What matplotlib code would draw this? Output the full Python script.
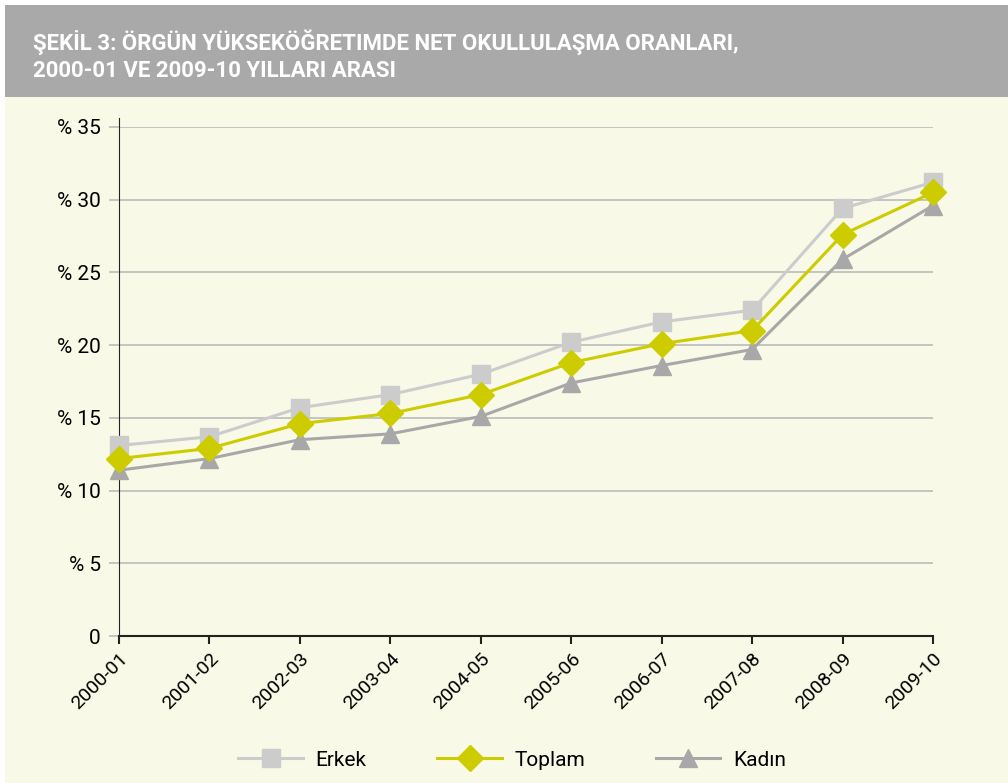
import numpy as np
import matplotlib
matplotlib.use("Agg")
import matplotlib.pyplot as plt
from matplotlib.patches import Rectangle

years = ["2000-01", "2001-02", "2002-03", "2003-04", "2004-05",
         "2005-06", "2006-07", "2007-08", "2008-09", "2009-10"]
erkek = [13.1, 13.7, 15.7, 16.6, 18.0, 20.2, 21.6, 22.4, 29.4, 31.2]
toplam = [12.2, 12.9, 14.6, 15.3, 16.6, 18.8, 20.1, 21.0, 27.6, 30.5]
kadin = [11.4, 12.2, 13.5, 13.9, 15.1, 17.4, 18.6, 19.7, 25.9, 29.6]
yticks = [0, 5, 10, 15, 20, 25, 30, 35]
ylabels = ["0", "% 5", "% 10", "% 15", "% 20", "% 25", "% 30", "% 35"]

plt.rcParams['font.family'] = ['Roboto', 'DejaVu Sans']

bg = '#f8f9e6'
fig = plt.figure(figsize=(10.08, 7.83), dpi=100, facecolor='white')
# backgrounds
fig.patches.append(Rectangle((5/1008, 0), 1 - 5/1008, 1 - 97/783, transform=fig.transFigure,
                             facecolor=bg, edgecolor='none', zorder=-10))
fig.patches.append(Rectangle((5/1008, 1 - 97/783), 1 - 5/1008, 92/783, transform=fig.transFigure,
                             facecolor='#a9a9aa', edgecolor='none', zorder=-10))
fig.text(33/1008, 1 - 42/783, "ŞEKİL 3: ÖRGÜN YÜKSEKÖĞRETIMDE NET OKULLULAŞMA ORANLARI,",
         color='white', fontsize=16, fontweight='bold', va='center')
fig.text(33/1008, 1 - 71/783, "2000-01 VE 2009-10 YILLARI ARASI",
         color='white', fontsize=16, fontweight='bold', va='center')

ax = fig.add_axes([119/1008, 1 - 636/783, (933 - 119)/1008, 509/783])
ax.set_facecolor('none')
x = np.arange(len(years))

ax.plot(x, erkek, color='#cccccc', lw=2.2, marker='s', ms=13, label='Erkek', zorder=3, clip_on=False)
ax.plot(x, toplam, color='#cccc00', lw=2.2, marker='D', ms=13, label='Toplam', zorder=5, clip_on=False)
ax.plot(x, kadin, color='#a8a8a8', lw=2.2, marker='^', ms=13, label='Kadın', zorder=4, clip_on=False)

ax.set_xlim(0, 9)
ax.set_ylim(0, 35)
ax.set_yticks(yticks)
ax.set_yticklabels(ylabels, fontsize=15)
ax.set_xticks(x)
ax.set_xticklabels(years, rotation=45, ha='right', rotation_mode='anchor', fontsize=14)
ax.grid(axis='y', color='#bbbbbb', lw=1.2)
ax.set_axisbelow(True)
for s in ['top', 'right']:
    ax.spines[s].set_visible(False)
ax.spines['left'].set_color('#222222')
ax.spines['left'].set_bounds(0, 35.6)
ax.spines['bottom'].set_color('#222222')
ax.spines['bottom'].set_linewidth(1.5)
ax.tick_params(axis='y', length=7, color='#bbbbbb', width=1.2, pad=6)
ax.tick_params(axis='x', length=6, color='#222222', width=1.5, pad=4)

leg = fig.legend(loc='center', bbox_to_anchor=(0.508, 1 - 760/783), ncol=3, frameon=False,
                 fontsize=15, handlelength=3.1, columnspacing=3.4, handletextpad=0.6)

fig.savefig('out.png', dpi=100, facecolor='white')
